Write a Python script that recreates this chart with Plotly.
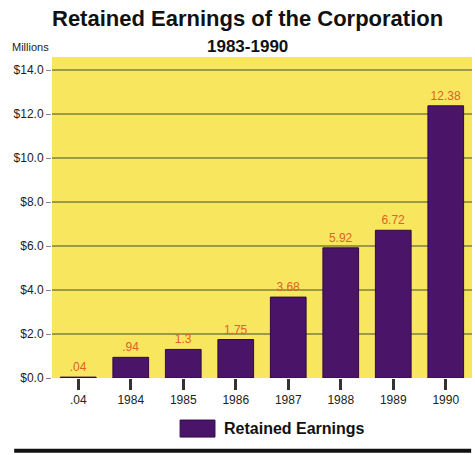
import plotly.graph_objects as go

# Retained earnings by year, in millions of dollars
years = [".04", "1984", "1985", "1986", "1987", "1988", "1989", "1990"]
earnings = [0.04, 0.94, 1.3, 1.75, 3.68, 5.92, 6.72, 12.38]
y_ticks = [0, 2, 4, 6, 8, 10, 12, 14]

value_labels = [f"{v:g}".lstrip("0") for v in earnings]

BAR = "#4a1468"
PANEL = "#f8e65e"
GRID = "#9c9a48"
NARROW = "Liberation Sans Narrow, Arial Narrow, sans-serif"
SANS = "Liberation Sans, Arial, sans-serif"

fig = go.Figure(
    go.Bar(
        x=years,
        y=earnings,
        text=value_labels,
        textposition="outside",
        textfont=dict(family=NARROW, size=12, color="#e0602c"),
        marker=dict(color=BAR, line=dict(color="#2e0a44", width=1)),
        cliponaxis=False,
        showlegend=False,
    )
)

fig.update_layout(
    width=475,
    height=455,
    margin=dict(l=52, r=3, t=57, b=77),
    paper_bgcolor="white",
    plot_bgcolor=PANEL,
    bargap=0.32,
    font=dict(family=NARROW, color="#222222"),
    annotations=[
        dict(text="<b>Retained Earnings of the Corporation</b>", xref="paper", yref="paper",
             x=0.465, y=1.0, yshift=39, xanchor="center", yanchor="middle", showarrow=False,
             font=dict(family=SANS, size=22, color="#111111")),
        dict(text="<b>1983-1990</b>", xref="paper", yref="paper",
             x=0.465, y=1.0, yshift=11, xanchor="center", yanchor="middle", showarrow=False,
             font=dict(family=SANS, size=17, color="#111111")),
        dict(text="Millions", xref="paper", yref="paper",
             x=-0.1, y=1.0, yshift=10, xanchor="left", yanchor="middle", showarrow=False,
             font=dict(family=NARROW, size=11, color="#222222")),
        dict(text="<b>Retained Earnings</b>", xref="paper", yref="paper",
             x=0.405, y=-0.158, xanchor="left", yanchor="middle", showarrow=False,
             font=dict(family=SANS, size=16, color="#111111")),
    ],
    shapes=[
        # legend swatch
        dict(type="rect", xref="paper", yref="paper", x0=0.305, x1=0.388, y0=-0.184, y1=-0.131,
             fillcolor=BAR, line=dict(color="#2e0a44", width=1)),
        # rule under the chart
        dict(type="line", xref="paper", yref="paper", x0=-0.09, x1=0.998, y0=-0.227, y1=-0.227,
             line=dict(color="#111111", width=4)),
    ],
)

fig.update_xaxes(
    type="category",
    showgrid=False,
    showline=False,
    ticks="outside",
    ticklen=11,
    tickwidth=3,
    tickcolor="#333333",
    tickfont=dict(family=NARROW, size=12, color="#222222"),
)

fig.update_yaxes(
    range=[0, 14.6],
    tickvals=y_ticks,
    tickformat="$.1f",
    showgrid=True,
    gridcolor=GRID,
    gridwidth=1.5,
    zeroline=False,
    ticks="outside",
    ticklen=5,
    tickwidth=1,
    tickcolor="#888888",
    tickfont=dict(family=NARROW, size=12, color="#222222"),
)

fig.write_html("out.html")
